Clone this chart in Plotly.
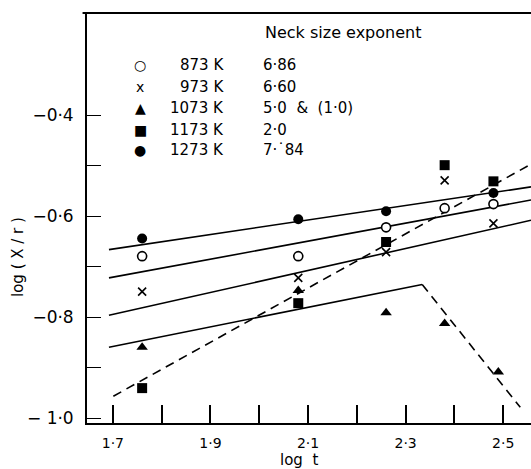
import plotly.graph_objects as go

# ---- data ----
log_t = [1.76, 2.08, 2.26, 2.38, 2.48]
y_873 = [-0.679, -0.679, -0.622, -0.584, -0.576]
y_973 = [-0.749, -0.722, -0.671, -0.529, -0.614]
log_t_1073 = [1.76, 2.08, 2.26, 2.38, 2.49]
y_1073 = [-0.859, -0.747, -0.791, -0.812, -0.908]
y_1173 = [-0.940, -0.772, -0.651, -0.499, -0.531]
log_t_1273 = [1.76, 2.08, 2.26, 2.48]
y_1273 = [-0.644, -0.606, -0.590, -0.554]

# fitted lines (end points)
fit_1273_x = [1.692, 2.557]
fit_1273_y = [-0.666, -0.542]
fit_873_x = [1.692, 2.557]
fit_873_y = [-0.722, -0.568]
fit_973_x = [1.692, 2.557]
fit_973_y = [-0.796, -0.608]
fit_1073_x = [1.692, 2.334]
fit_1073_y = [-0.859, -0.735]
fit_1073b_x = [2.334, 2.535]
fit_1073b_y = [-0.735, -0.978]
fit_1173_x = [1.701, 2.557]
fit_1173_y = [-0.956, -0.497]

legend_symbols = ["○", "x", "▲", "■", "●"]
legend_temps = ["873 K", "973 K", "1073 K", "1173 K", "1273 K"]
legend_exps = ["6·86", "6·60", "5·0  &  (1·0)", "2·0", "7·˙84"]
legend_title = "Neck size exponent"

x_tickvals = [1.7, 1.8, 1.9, 2.0, 2.1, 2.2, 2.3, 2.4, 2.5]
x_ticktext = ["1·7", "", "1·9", "", "2·1", "", "2·3", "", "2·5"]
y_tickvals = [-1.0, -0.9, -0.8, -0.7, -0.6, -0.5, -0.4]
y_ticktext = ["− 1·0", "", "−0·8", "", "−0·6", "", "−0·4"]
x_title = "log  t"
y_title = "log ( X / r )"

FONT = "DejaVu Sans"
W, H = 531, 469
L, R, T, B = 87, 0, 13, 46
PLOT_H = H - T - B

fig = go.Figure()

line_style = dict(color="black", width=1.6)
dash_style = dict(color="black", width=1.6, dash="9px,6px")

for fx, fy, st in [
    (fit_1273_x, fit_1273_y, line_style),
    (fit_873_x, fit_873_y, line_style),
    (fit_973_x, fit_973_y, line_style),
    (fit_1073_x, fit_1073_y, line_style),
    (fit_1073b_x, fit_1073b_y, dash_style),
    (fit_1173_x, fit_1173_y, dash_style),
]:
    fig.add_trace(go.Scatter(x=fx, y=fy, mode="lines", line=st,
                             showlegend=False, hoverinfo="skip"))

fig.add_trace(go.Scatter(x=log_t, y=y_873, mode="markers",
                         marker=dict(symbol="circle", size=9, color="white",
                                     line=dict(color="black", width=1.6)),
                         showlegend=False))
fig.add_trace(go.Scatter(x=log_t, y=y_973, mode="markers",
                         marker=dict(symbol="x-thin-open", size=8, color="black",
                                     line=dict(color="black", width=1.6)),
                         showlegend=False))
fig.add_trace(go.Scatter(x=log_t_1073, y=y_1073, mode="markers",
                         marker=dict(symbol="triangle-up", size=10, color="black",
                                     line=dict(width=0)),
                         showlegend=False))
fig.add_trace(go.Scatter(x=log_t, y=y_1173, mode="markers",
                         marker=dict(symbol="square", size=10, color="black",
                                     line=dict(width=0)),
                         showlegend=False))
fig.add_trace(go.Scatter(x=log_t_1273, y=y_1273, mode="markers",
                         marker=dict(symbol="circle", size=10, color="black",
                                     line=dict(width=0)),
                         showlegend=False))


def px(xp):
    return (xp - L) / (W - L - R)


def py(yp):
    return (H - B - yp) / PLOT_H


ann = []
ann.append(dict(text=legend_title, x=px(343), y=py(32), xref="paper", yref="paper",
                xanchor="center", yanchor="middle", showarrow=False,
                font=dict(family=FONT, size=16, color="black")))
row_y = [65, 87, 108, 130, 150]
for sym, tmp, ex, ry in zip(legend_symbols, legend_temps, legend_exps, row_y):
    ann.append(dict(text=sym, x=px(140), y=py(ry), xref="paper", yref="paper",
                    xanchor="center", yanchor="middle", showarrow=False,
                    font=dict(family=FONT, size=14, color="black")))
    ann.append(dict(text=tmp, x=px(226), y=py(ry), xref="paper", yref="paper",
                    xanchor="right", yanchor="middle", showarrow=False,
                    font=dict(family=FONT, size=15, color="black")))
    ann.append(dict(text=ex, x=px(261), y=py(ry), xref="paper", yref="paper",
                    xanchor="left", yanchor="middle", showarrow=False,
                    font=dict(family=FONT, size=15, color="black")))
# axis titles
ann.append(dict(text=x_title, x=px(299), y=py(460), xref="paper", yref="paper",
                xanchor="center", yanchor="middle", showarrow=False,
                font=dict(family=FONT, size=15, color="black")))
ann.append(dict(text=y_title, x=px(18), y=py(257), xref="paper", yref="paper",
                xanchor="center", yanchor="middle", showarrow=False, textangle=-90,
                font=dict(family=FONT, size=15, color="black")))

# top frame line (no right frame in the reference)
shapes = [dict(type="line", xref="paper", yref="paper", x0=-0.01, x1=1, y0=1, y1=1,
               line=dict(color="black", width=1.8))]

fig.update_layout(
    width=W, height=H,
    margin=dict(l=L, r=R, t=T, b=B),
    paper_bgcolor="white", plot_bgcolor="white",
    font=dict(family=FONT, size=14, color="black"),
    annotations=ann,
    shapes=shapes,
    xaxis=dict(range=[1.647, 2.557], tickvals=x_tickvals, ticktext=x_ticktext,
               ticks="inside", ticklen=18, tickwidth=1.6, tickcolor="black",
               showline=True, linecolor="black", linewidth=1.8,
               showgrid=False, zeroline=False, ticklabelstandoff=6,
               tickfont=dict(family=FONT, size=14)),
    yaxis=dict(range=[-1.009, -0.198], tickvals=y_tickvals, ticktext=y_ticktext,
               ticks="inside", ticklen=14, tickwidth=1.4, tickcolor="black",
               showline=True, linecolor="black", linewidth=1.8,
               showgrid=False, zeroline=False, ticklabelstandoff=8,
               tickfont=dict(family=FONT, size=17)),
)

fig.write_html("out.html", post_script="document.body.style.margin='0';",
               config={"displayModeBar": False})
